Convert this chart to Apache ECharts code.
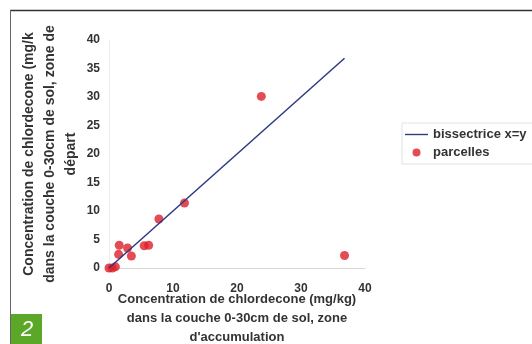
<!DOCTYPE html>
<html>
<head>
<meta charset="utf-8">
<script src="https://cdn.jsdelivr.net/npm/echarts@6/dist/echarts.min.js"></script>
<style>
    html, body { margin: 0; padding: 0; background: #fff; }
    #chart { width: 532px; height: 344px; }
</style>
</head>
<body>
<div id="chart"></div>
<script>
// parcelles : zone d'accumulation (x) vs zone de départ (y), mg/kg
const parcellesX = [0, 0.5, 1.0, 1.5, 1.6, 2.9, 3.5, 5.5, 6.2, 7.8, 11.8, 23.8, 36.8];
const parcellesY = [0, 0, 0.2, 2.4, 4.0, 3.5, 2.1, 3.9, 4.0, 8.6, 11.4, 30.1, 2.2];
// bissectrice x=y
const bissectriceX = [0, 36.8];
const bissectriceY = [0, 36.8];

const xTicks = [0, 10, 20, 30, 40];
const yTicks = [0, 5, 10, 15, 20, 25, 30, 35, 40];

const xName = "Concentration de chlordecone (mg/kg)\ndans la couche 0-30cm de sol, zone\nd'accumulation";
const yName = "Concentration de chlordecone (mg/k\ndans la couche 0-30cm de sol, zone de\ndépart";

let myChart = echarts.init(document.getElementById('chart'));

const font = 'Liberation Sans, Arial, sans-serif';

myChart.setOption({
    animation: false,
    backgroundColor: '#fff',
    grid: {
        left: 109,
        right: 167,
        top: 40,
        bottom: 76,
        outerBoundsMode: 'none'
    },
    legend: {
        orient: 'vertical',
        left: 402,
        top: 123,
        padding: [5, 6, 5, 3],
        itemGap: 5,
        itemWidth: 23,
        itemHeight: 8,
        borderColor: '#e2e2e2',
        borderWidth: 1,
        textStyle: {
            fontFamily: font,
            fontWeight: 'bold',
            fontSize: 13,
            color: '#333'
        },
        data: [
            { name: 'bissectrice x=y', icon: 'path://M0,0L100,0L100,6L0,6Z' },
            { name: 'parcelles', icon: 'circle' }
        ]
    },
    xAxis: {
        type: 'value',
        min: xTicks[0],
        max: xTicks[xTicks.length - 1],
        interval: 10,
        splitLine: { show: false },
        axisTick: { show: false },
        axisLine: { lineStyle: { color: '#d8d8d8' } },
        axisLabel: {
            margin: 15,
            fontFamily: font,
            fontWeight: 'bold',
            fontSize: 12,
            color: '#333'
        },
        name: xName,
        nameLocation: 'middle',
        nameGap: 22,
        nameMoveOverlap: false,
        nameTextStyle: {
            fontFamily: font,
            fontWeight: 'bold',
            fontSize: 13,
            lineHeight: 19,
            color: '#333',
            align: 'center'
        }
    },
    yAxis: {
        type: 'value',
        min: yTicks[0],
        max: yTicks[yTicks.length - 1],
        interval: 5,
        splitLine: { show: false },
        axisTick: { show: false },
        axisLine: { show: true, lineStyle: { color: '#eeeeee' } },
        axisLabel: {
            margin: 9,
            fontFamily: font,
            fontWeight: 'bold',
            fontSize: 12,
            color: '#333'
        },
        name: yName,
        nameLocation: 'middle',
        nameRotate: 90,
        nameGap: 27,
        nameMoveOverlap: false,
        nameTextStyle: {
            fontFamily: font,
            fontWeight: 'bold',
            fontSize: 14,
            lineHeight: 21,
            color: '#333',
            align: 'center'
        }
    },
    series: [
        {
            name: 'bissectrice x=y',
            type: 'line',
            symbol: 'none',
            lineStyle: { color: '#2e3a80', width: 1.5 },
            itemStyle: { color: '#2e3a80' },
            data: bissectriceX.map((x, i) => [x, bissectriceY[i]])
        },
        {
            name: 'parcelles',
            type: 'scatter',
            symbolSize: 9,
            itemStyle: { color: '#dd1f2a' },
            data: parcellesX.map((x, i) => [x, parcellesY[i]])
        }
    ],
    graphic: [
        // cadre
        { type: 'line', shape: { x1: 10, y1: 10.5, x2: 532, y2: 10.5 }, style: { stroke: '#333', lineWidth: 1.5 } },
        { type: 'line', shape: { x1: 10.5, y1: 10, x2: 10.5, y2: 344 }, style: { stroke: '#666', lineWidth: 1 } },
        // numéro de figure
        { type: 'rect', shape: { x: 11, y: 314, width: 31, height: 30 }, style: { fill: '#5ba829' } },
        {
            type: 'text', x: 27, y: 330,
            style: {
                text: '2', fill: '#fff', fontSize: 22, fontStyle: 'italic',
                fontFamily: font, align: 'center', verticalAlign: 'middle'
            }
        }
    ]
});
</script>
</body>
</html>
